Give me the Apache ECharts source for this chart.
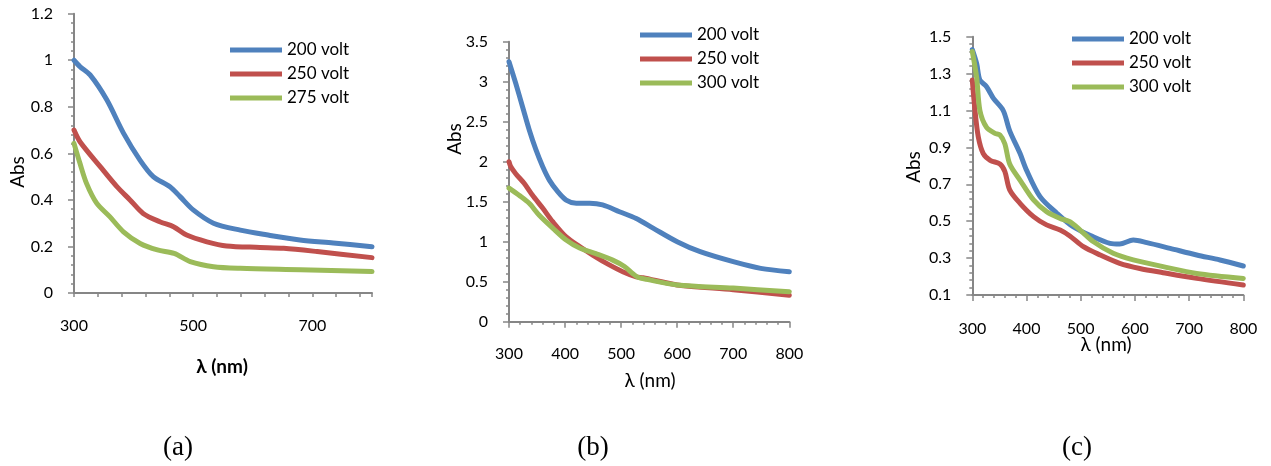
<!DOCTYPE html>
<html>
<head>
<meta charset="utf-8">
<script src="https://cdn.jsdelivr.net/npm/echarts@6/dist/echarts.min.js"></script>
<style>html,body{margin:0;padding:0;background:#fff}#c{width:1271px;height:466px}</style>
</head>
<body>
<div id="c"></div>
<script>
// ---------- Panel (a) ----------
const aNames = ['200 volt', '250 volt', '275 volt'];
const aNm200 = [300, 310, 327, 355, 383, 411, 433, 461, 478, 500, 534, 579, 623, 679, 735, 800];
const aAbs200 = [1.0, 0.973, 0.937, 0.83, 0.687, 0.57, 0.50, 0.457, 0.414, 0.357, 0.30, 0.27, 0.25, 0.228, 0.215, 0.199];
const aNm250 = [300, 310, 344, 372, 394, 416, 444, 467, 489, 523, 556, 612, 652, 708, 800];
const aAbs250 = [0.70, 0.65, 0.543, 0.457, 0.40, 0.342, 0.306, 0.285, 0.249, 0.22, 0.202, 0.196, 0.192, 0.178, 0.152];
const aNm275 = [300, 310, 321, 338, 360, 383, 411, 440, 468, 495, 534, 579, 680, 800];
const aAbs275 = [0.643, 0.557, 0.471, 0.386, 0.328, 0.263, 0.213, 0.185, 0.17, 0.135, 0.113, 0.106, 0.10, 0.092];

// ---------- Panel (b) ----------
const bNames = ['200 volt', '250 volt', '300 volt'];
const bNm200 = [300, 312, 324, 336, 348, 360, 372, 387, 402, 420, 444, 467, 497, 527, 557, 600, 641, 700, 749, 800];
const bAbs200 = [3.25, 2.98, 2.69, 2.40, 2.15, 1.94, 1.77, 1.625, 1.52, 1.48, 1.48, 1.46, 1.375, 1.29, 1.17, 1.0, 0.875, 0.75, 0.667, 0.625];
const bNm250 = [300, 303, 312, 327, 342, 360, 378, 402, 426, 450, 479, 503, 527, 539, 600, 700, 800];
const bAbs250 = [2.0, 1.94, 1.85, 1.73, 1.58, 1.42, 1.25, 1.06, 0.94, 0.83, 0.71, 0.625, 0.56, 0.55, 0.46, 0.40, 0.33];
const bNm300 = [300, 318, 336, 354, 378, 402, 426, 455, 485, 506, 521, 530, 545, 600, 700, 800];
const bAbs300 = [1.67, 1.58, 1.48, 1.33, 1.17, 1.02, 0.92, 0.85, 0.77, 0.69, 0.60, 0.555, 0.53, 0.46, 0.42, 0.375];

// ---------- Panel (c) ----------
const cNames = ['200 volt', '250 volt', '300 volt'];
const cNm200 = [300, 308, 314, 326, 339, 357, 369, 388, 400, 425, 456, 486, 523, 554, 572, 597, 622, 665, 714, 757, 800];
const cAbs200 = [1.43, 1.355, 1.265, 1.23, 1.166, 1.10, 0.99, 0.868, 0.777, 0.633, 0.543, 0.47, 0.416, 0.38, 0.376, 0.398, 0.384, 0.353, 0.317, 0.29, 0.257];
const cNm250 = [300, 305, 311, 320, 333, 351, 360, 369, 388, 413, 437, 462, 480, 505, 536, 572, 609, 652, 714, 800];
const cAbs250 = [1.265, 1.10, 0.958, 0.868, 0.83, 0.81, 0.77, 0.67, 0.597, 0.525, 0.48, 0.452, 0.42, 0.362, 0.317, 0.272, 0.244, 0.221, 0.19, 0.154];
const cNm300 = [300, 308, 314, 326, 342, 351, 360, 369, 388, 413, 437, 462, 480, 499, 523, 560, 597, 652, 714, 800];
const cAbs300 = [1.42, 1.28, 1.10, 1.01, 0.976, 0.967, 0.92, 0.81, 0.723, 0.615, 0.552, 0.515, 0.497, 0.452, 0.39, 0.326, 0.29, 0.254, 0.217, 0.19];

// ---------- Axis ticks / text ----------
const aXLabels = [300, 500, 700];
const xTitle = 'λ (nm)';
const yTitle = 'Abs';
const panelLabels = ['(a)', '(b)', '(c)'];

const colors = ['#4F81BD', '#C0504D', '#9BBB59'];
const FONT = 'Lato, "Open Sans", sans-serif';
const AX = '#868686';

function zip(xs, ys) { return xs.map((x, i) => [x, ys[i]]); }

function line(name, xs, ys, color, idx) {
  return {
    type: 'line', name: name, data: zip(xs, ys), xAxisIndex: idx, yAxisIndex: idx,
    showSymbol: false, symbol: 'none', smooth: 0.3,
    color: color, lineStyle: { width: 5, color: color, cap: 'round', join: 'round' }, z: 3
  };
}

const axisLineCfg = { show: true, onZero: false, lineStyle: { color: AX, width: 2 } };
const lbl = { color: '#000', fontFamily: FONT, fontSize: 16 };

function yAx(idx, min, max, interval) {
  return {
    type: 'value', gridIndex: idx, min: min, max: max, interval: interval,
    axisLine: axisLineCfg,
    axisTick: { show: true, length: 6, lineStyle: { color: AX, width: 1.5 } },
    minorTick: { show: true, splitNumber: 5, length: 3, lineStyle: { color: AX, width: 1.5 } },
    splitLine: { show: false }, minorSplitLine: { show: false },
    axisLabel: Object.assign({ margin: 21 }, lbl)
  };
}

const grids = [
  { left: 74, top: 13.7, width: 298, height: 279.3 },
  { left: 509, top: 41.7, width: 280.3, height: 280 },
  { left: 972.3, top: 36.7, width: 271, height: 258.3 }
];

const xAxes = [
  {
    type: 'value', gridIndex: 0, min: 300, max: 800, interval: 40,
    axisLine: axisLineCfg,
    axisTick: { show: true, length: 4, lineStyle: { color: AX, width: 1.5 } },
    splitLine: { show: false },
    axisLabel: Object.assign({ margin: 25, formatter: v => aXLabels.indexOf(v) >= 0 ? String(v) : '' }, lbl)
  },
  {
    type: 'value', gridIndex: 1, min: 300, max: 800, interval: 100,
    axisLine: axisLineCfg,
    axisTick: { show: true, length: 6, lineStyle: { color: AX, width: 1.5 } },
    minorTick: { show: true, splitNumber: 5, length: 3, lineStyle: { color: AX, width: 1.5 } },
    splitLine: { show: false }, minorSplitLine: { show: false },
    axisLabel: Object.assign({ margin: 24 }, lbl)
  },
  {
    type: 'value', gridIndex: 2, min: 300, max: 800, interval: 100,
    axisLine: axisLineCfg,
    axisTick: { show: true, length: 6, lineStyle: { color: AX, width: 1.5 } },
    minorTick: { show: true, splitNumber: 5, length: 3, lineStyle: { color: AX, width: 1.5 } },
    splitLine: { show: false }, minorSplitLine: { show: false },
    axisLabel: Object.assign({ margin: 26 }, lbl)
  }
];

const yAxes = [yAx(0, 0, 1.2, 0.2), yAx(1, 0, 3.5, 0.5), yAx(2, 0.1, 1.5, 0.2)];

function legend(names, left, top) {
  return {
    data: names, orient: 'vertical', left: left, top: top, padding: 0,
    icon: 'rect', itemWidth: 52, itemHeight: 5, itemGap: 7, selectedMode: false,
    textStyle: { color: '#000', fontFamily: FONT, fontSize: 17 }
  };
}

function txt(text, x, y, opts) {
  return {
    type: 'text', x: x, y: y, rotation: opts.rot || 0, z: 10,
    style: {
      text: text, fill: '#000', align: 'center', verticalAlign: 'middle',
      font: (opts.weight || 'normal') + ' ' + opts.size + 'px ' + (opts.family || FONT)
    }
  };
}

const option = {
  animation: false,
  backgroundColor: '#fff',
  grid: grids,
  xAxis: xAxes,
  yAxis: yAxes,
  legend: [legend(aNames, 230, 41.5), legend(bNames, 640, 26.5), legend(cNames, 1072, 30.5)],
  series: [
    line(aNames[0], aNm200, aAbs200, colors[0], 0),
    line(aNames[1], aNm250, aAbs250, colors[1], 0),
    line(aNames[2], aNm275, aAbs275, colors[2], 0),
    line(bNames[0], bNm200, bAbs200, colors[0], 1),
    line(bNames[1], bNm250, bAbs250, colors[1], 1),
    line(bNames[2], bNm300, bAbs300, colors[2], 1),
    line(cNames[0], cNm200, cAbs200, colors[0], 2),
    line(cNames[1], cNm250, cAbs250, colors[1], 2),
    line(cNames[2], cNm300, cAbs300, colors[2], 2)
  ],
  graphic: [
    txt(yTitle, 18, 172, { size: 19, rot: Math.PI / 2 }),
    txt(yTitle, 455, 139, { size: 19, rot: Math.PI / 2 }),
    txt(yTitle, 914, 167, { size: 19, rot: Math.PI / 2 }),
    txt(xTitle, 222, 367, { size: 19, weight: 'bold' }),
    txt(xTitle, 650, 381, { size: 19 }),
    txt(xTitle, 1106, 345, { size: 19 }),
    txt(panelLabels[0], 178, 448, { size: 27, family: '"Liberation Serif", serif' }),
    txt(panelLabels[1], 593, 448, { size: 27, family: '"Liberation Serif", serif' }),
    txt(panelLabels[2], 1077, 448, { size: 27, family: '"Liberation Serif", serif' })
  ]
};

const chart = echarts.init(document.getElementById('c'), null, { renderer: 'canvas' });
chart.setOption(option);
</script>
</body>
</html>
